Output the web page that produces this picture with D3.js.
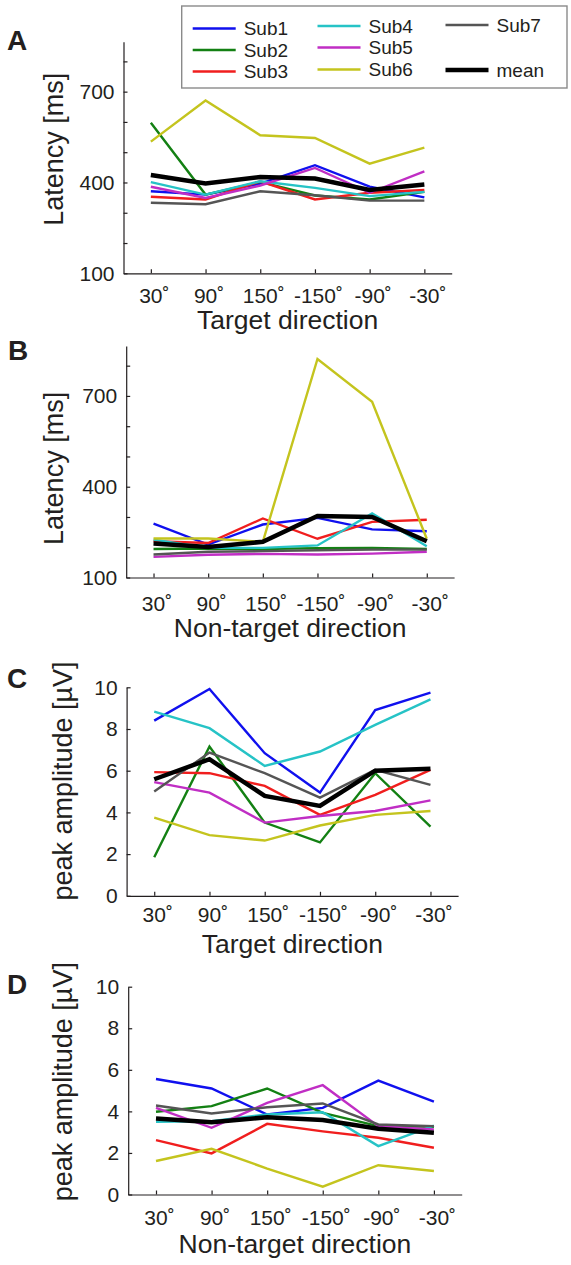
<!DOCTYPE html>
<html>
<head>
<meta charset="utf-8">
<script src="https://cdn.jsdelivr.net/npm/d3@7"></script>
<style>
  html, body { margin: 0; padding: 0; background: #fff; }
  svg { display: block; }
  text { font-family: "Liberation Sans", Arial, Helvetica, sans-serif; fill: #231f20; }
</style>
</head>
<body>
<svg id="chart" width="571" height="1265"></svg>
<script>
// ---------- DATA ----------
const directions = ["30˚", "90˚", "150˚", "-150˚", "-90˚", "-30˚"];
const seriesNames = ["Sub1", "Sub2", "Sub3", "Sub4", "Sub5", "Sub6", "Sub7", "mean"];
const seriesColors = ["#1010ee", "#138013", "#f01e1e", "#26c3c6", "#c02ec4", "#c4c41e", "#555555", "#000000"];

// Panel A: latency [ms], target direction (rows: Sub1..Sub7, mean)
const latencyTarget = [
  [371, 360, 396, 457, 386, 351],
  [597, 360, 402, 357, 344, 369],
  [353, 344, 404, 344, 366, 375],
  [401, 360, 404, 382, 355, 369],
  [386, 349, 390, 448, 366, 437],
  [535, 671, 556, 547, 462, 515],
  [333, 328, 371, 358, 340, 340],
  [425, 397, 418, 413, 375, 393]
];
// Panel B: latency [ms], non-target direction
const latencyNonTarget = [
  [278, 209, 275, 297, 259, 253],
  [194, 196, 194, 197, 198, 194],
  [220, 214, 295, 228, 284, 291],
  [225, 198, 198, 206, 312, 203],
  [168, 175, 178, 176, 179, 185],
  [229, 229, 218, 822, 681, 228],
  [176, 185, 187, 190, 192, 192],
  [212, 201, 218, 303, 300, 220]
];
// Panel C: peak amplitude [µV], target direction
const amplitudeTarget = [
  [8.40, 9.92, 6.84, 4.95, 8.91, 9.74],
  [1.85, 7.16, 3.51, 2.56, 5.88, 3.32],
  [5.93, 5.88, 5.27, 3.88, 4.84, 6.04],
  [8.83, 8.04, 6.23, 6.92, 8.20, 9.42],
  [5.45, 4.95, 3.51, 3.83, 4.07, 4.58],
  [3.75, 2.91, 2.65, 3.37, 3.88, 4.07],
  [5.00, 6.87, 5.88, 4.71, 6.04, 5.32],
  [5.59, 6.55, 4.79, 4.31, 6.00, 6.09]
];
// Panel D: peak amplitude [µV], non-target direction
const amplitudeNonTarget = [
  [5.56, 5.10, 3.85, 4.17, 5.48, 4.47],
  [3.98, 4.25, 5.10, 3.93, 3.29, 3.26],
  [2.62, 1.98, 3.40, 3.04, 2.73, 2.25],
  [3.50, 3.53, 3.85, 3.96, 2.33, 3.32],
  [4.17, 3.21, 4.41, 5.26, 3.29, 3.13],
  [1.61, 2.20, 1.25, 0.38, 1.41, 1.13],
  [4.28, 3.90, 4.20, 4.38, 3.37, 3.29],
  [3.66, 3.48, 3.72, 3.58, 3.16, 2.97]
];
const latencyTicks = [100, 200, 300, 400, 500, 600, 700, 800];
const latencyTickLabels = ["100", "", "", "400", "", "", "700", ""];
const amplitudeTicks = [0, 2, 4, 6, 8, 10];
const amplitudeTickLabels = ["0", "2", "4", "6", "8", "10"];

// ---------- LAYOUT ----------
const panels = [
  { letter: "A", data: latencyTarget, domain: [100, 865], ticks: latencyTicks, tickLabels: latencyTickLabels,
    ylabel: "Latency [ms]", xlabel: "Target direction",
    x0: 123.5, x1: 451.7, top: 41.7, bottom: 273.3,
    letterX: 7, letterY: 50, ylabX: 62.5, ylabY: 149.2, xtickY: 303, xlabY: 328.5 },
  { letter: "B", data: latencyNonTarget, domain: [100, 865], ticks: latencyTicks, tickLabels: latencyTickLabels,
    ylabel: "Latency [ms]", xlabel: "Non-target direction",
    x0: 126.2, x1: 454.1, top: 346, bottom: 577.5,
    letterX: 8, letterY: 360, ylabX: 62.5, ylabY: 468.4, xtickY: 610.5, xlabY: 636.7 },
  { letter: "C", data: amplitudeTarget, domain: [0, 10], ticks: amplitudeTicks, tickLabels: amplitudeTickLabels,
    ylabel: "peak amplitude [µV]", xlabel: "Target direction",
    x0: 126.6, x1: 458.1, top: 687.3, bottom: 895.8,
    letterX: 7, letterY: 688, ylabX: 71.5, ylabY: 781, xtickY: 922.5, xlabY: 952.7 },
  { letter: "D", data: amplitudeNonTarget, domain: [0, 10], ticks: amplitudeTicks, tickLabels: amplitudeTickLabels,
    ylabel: "peak amplitude [µV]", xlabel: "Non-target direction",
    x0: 128.2, x1: 461.7, top: 986.7, bottom: 1194.5,
    letterX: 7, letterY: 994, ylabX: 71.5, ylabY: 1081.7, xtickY: 1224.5, xlabY: 1253.3 }
];

const svg = d3.select("#chart");
const axisColor = "#231f20";

panels.forEach(p => {
  const x = d3.scalePoint().domain(directions).range([p.x0, p.x1]).padding(0.5);
  const y = d3.scaleLinear().domain(p.domain).range([p.bottom, p.top]);
  const g = svg.append("g");

  // y axis
  const yAxis = d3.axisLeft(y).tickValues(p.ticks)
    .tickFormat((d, i) => p.tickLabels[i])
    .tickSizeInner(-4).tickSizeOuter(0).tickPadding(9);
  const ya = g.append("g").attr("transform", `translate(${p.x0},0)`).call(yAxis);
  ya.selectAll("text").style("font-size", "21px").attr("fill", axisColor);
  ya.selectAll("line, path").attr("stroke", axisColor).attr("stroke-width", 1.2);

  // x axis
  const xAxis = d3.axisBottom(x).tickSizeInner(-4).tickSizeOuter(0).tickPadding(0);
  const xa = g.append("g").attr("transform", `translate(0,${p.bottom})`).call(xAxis);
  xa.selectAll("text").style("font-size", "21px").attr("fill", axisColor)
    .attr("dy", null).attr("y", p.xtickY - p.bottom).attr("dx", 3);
  xa.selectAll("line, path").attr("stroke", axisColor).attr("stroke-width", 1.2);

  // lines
  const line = d3.line().x((d, i) => x(directions[i])).y(d => y(d));
  p.data.forEach((vals, s) => {
    g.append("path").datum(vals)
      .attr("d", line)
      .attr("fill", "none")
      .attr("stroke", seriesColors[s])
      .attr("stroke-width", s === 7 ? 4.5 : 2.4)
      .attr("stroke-linejoin", "miter");
  });

  // labels
  g.append("text").attr("x", p.letterX).attr("y", p.letterY)
    .style("font-size", "28px").style("font-weight", "bold").text(p.letter);
  g.append("text")
    .attr("transform", `translate(${p.ylabX},${p.ylabY}) rotate(-90)`)
    .attr("text-anchor", "middle").style("font-size", "27px").text(p.ylabel);
  g.append("text").attr("x", (p.x0 + p.x1) / 2).attr("y", p.xlabY)
    .attr("text-anchor", "middle").style("font-size", "26.5px").text(p.xlabel);
});

// ---------- LEGEND ----------
const legendPos = [
  { x: 192.7, y: 28.5 }, { x: 192.7, y: 50 }, { x: 192.7, y: 71.5 },
  { x: 317.5, y: 26 }, { x: 317.5, y: 47.5 }, { x: 317.5, y: 69.5 },
  { x: 445.5, y: 25 }, { x: 445.5, y: 70 }
];
const lg = svg.append("g");
lg.append("rect").attr("x", 181.7).attr("y", 6).attr("width", 567 - 181.7).attr("height", 82)
  .attr("fill", "#fff").attr("stroke", "#8a8a8a").attr("stroke-width", 1.4);
seriesNames.forEach((name, i) => {
  const pos = legendPos[i];
  lg.append("line").attr("x1", pos.x).attr("x2", pos.x + 43).attr("y1", pos.y).attr("y2", pos.y)
    .attr("stroke", seriesColors[i]).attr("stroke-width", i === 7 ? 4.5 : 2.4);
  lg.append("text").attr("x", pos.x + 51).attr("y", pos.y + 6.5)
    .style("font-size", "19px").text(name);
});
</script>
</body>
</html>
